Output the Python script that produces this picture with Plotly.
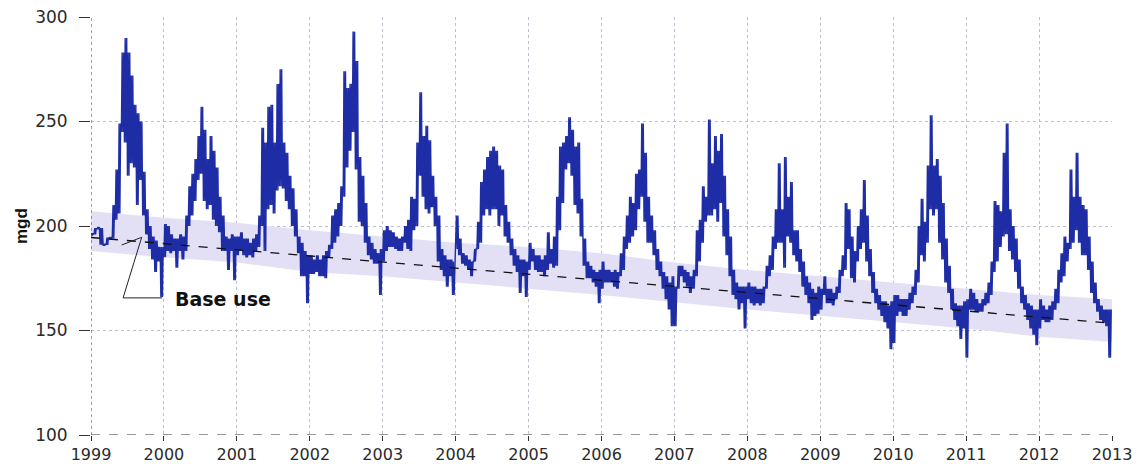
import plotly.graph_objects as go

YEARS = list(range(1999, 2013))

# Half-monthly low / high of daily water use (mgd), 24 values per year (early Jan .. late Dec)
LO_1999 = [195.5, 196, 198.5, 191, 190.5, 191, 194, 194, 203, 206, 245, 240, 224, 230, 228, 210, 222, 205, 196, 189, 184, 178, 183, 166]
HI_1999 = [196.5, 199, 199.5, 199, 191.5, 194.5, 194.5, 210, 227, 249, 283, 290, 283, 272, 258, 254, 250, 226, 208, 200, 195, 193, 190, 190]
LO_2000 = [185, 188, 187, 188, 180, 188, 184, 188, 200, 205, 212, 222, 225, 212, 208, 210, 203, 200, 197, 188, 188, 179, 188, 174]
HI_2000 = [201, 200, 196, 194, 194, 196, 195, 205, 219, 225, 232, 243, 257, 246, 232, 243, 236, 228, 214, 205, 195, 194, 196, 195]
LO_2001 = [186, 188, 186, 185, 186, 185, 188, 190, 200, 188, 208, 210, 206, 217, 219, 218, 212, 208, 200, 195, 187, 176, 176, 163]
HI_2001 = [195, 197, 194, 194, 192, 194, 196, 205, 247, 240, 257, 258, 240, 268, 275, 240, 235, 224, 218, 208, 195, 192, 188, 186]
LO_2002 = [177, 177, 178, 176, 176, 175, 185, 189, 192, 195, 200, 214, 228, 236, 245, 227, 202, 200, 192, 186, 184, 182, 182, 167]
HI_2002 = [186, 184, 186, 184, 186, 188, 191, 205, 208, 211, 219, 274, 266, 268, 293, 279, 233, 224, 211, 195, 192, 189, 187, 189]
LO_2003 = [183, 188, 190, 190, 189, 188, 188, 192, 189, 188, 198, 200, 224, 214, 208, 206, 209, 200, 183, 179, 176, 171, 176, 167]
HI_2003 = [198, 200, 198, 197, 195, 194, 195, 200, 203, 214, 213, 240, 264, 243, 248, 241, 224, 214, 205, 189, 186, 184, 184, 183]
LO_2004 = [189, 186, 182, 181, 179, 176, 183, 189, 192, 205, 208, 205, 208, 208, 200, 205, 195, 192, 186, 181, 178, 168, 176, 166]
HI_2004 = [205, 194, 187, 186, 184, 183, 189, 202, 221, 227, 233, 236, 238, 236, 229, 227, 210, 202, 194, 189, 186, 184, 184, 183]
LO_2005 = [179, 183, 179, 178, 178, 176, 179, 182, 180, 181, 198, 211, 227, 230, 224, 210, 206, 195, 181, 175, 175, 173, 171, 163]
HI_2005 = [192, 189, 186, 186, 184, 186, 197, 189, 195, 214, 238, 240, 243, 252, 246, 238, 240, 213, 194, 183, 181, 179, 178, 179]
LO_2006 = [170, 173, 173, 173, 171, 170, 176, 179, 189, 192, 195, 198, 208, 214, 202, 192, 192, 186, 179, 176, 170, 165, 160, 152]
HI_2006 = [183, 179, 179, 178, 179, 178, 187, 195, 205, 214, 211, 225, 227, 249, 235, 214, 205, 198, 189, 183, 178, 176, 173, 176]
LO_2007 = [152, 170, 176, 173, 171, 168, 170, 176, 183, 192, 202, 205, 205, 208, 202, 211, 195, 186, 176, 167, 165, 160, 163, 151]
HI_2007 = [171, 181, 181, 179, 178, 176, 179, 198, 203, 219, 214, 251, 230, 243, 236, 244, 224, 208, 195, 179, 173, 171, 171, 171]
LO_2008 = [165, 163, 162, 163, 162, 163, 170, 176, 179, 189, 192, 192, 180, 195, 192, 186, 183, 178, 171, 167, 163, 155, 157, 158]
HI_2008 = [173, 171, 171, 170, 170, 171, 181, 186, 195, 208, 230, 208, 233, 214, 221, 198, 198, 189, 183, 176, 173, 170, 168, 171]
LO_2009 = [160, 167, 163, 163, 162, 165, 168, 176, 179, 189, 175, 173, 183, 189, 192, 183, 176, 168, 163, 160, 157, 154, 151, 141]
HI_2009 = [170, 176, 170, 170, 168, 171, 179, 186, 211, 208, 195, 188, 200, 208, 222, 205, 189, 178, 170, 167, 164, 164, 162, 164]
LO_2010 = [144, 157, 159, 157, 157, 160, 163, 167, 173, 186, 183, 192, 208, 205, 208, 192, 184, 173, 168, 160, 155, 152, 146, 151]
HI_2010 = [167, 167, 165, 165, 165, 168, 171, 179, 200, 213, 202, 229, 253, 229, 232, 224, 211, 194, 181, 170, 163, 162, 162, 164]
LO_2011 = [137, 160, 160, 159, 159, 159, 162, 163, 167, 178, 183, 190, 195, 196, 188, 184, 178, 170, 163, 160, 155, 151, 148, 143]
HI_2011 = [165, 170, 168, 165, 163, 165, 168, 173, 183, 212, 210, 207, 235, 249, 208, 200, 194, 184, 171, 167, 163, 162, 160, 160]
LO_2012 = [151, 155, 154, 154, 155, 160, 163, 173, 176, 183, 189, 192, 198, 192, 186, 186, 179, 168, 163, 159, 155, 154, 152, 137]
HI_2012 = [165, 162, 160, 162, 164, 170, 179, 187, 195, 192, 227, 214, 235, 214, 210, 208, 195, 183, 173, 165, 162, 160, 160, 160]

LOWS = [LO_1999, LO_2000, LO_2001, LO_2002, LO_2003, LO_2004, LO_2005,
        LO_2006, LO_2007, LO_2008, LO_2009, LO_2010, LO_2011, LO_2012]
HIGHS = [HI_1999, HI_2000, HI_2001, HI_2002, HI_2003, HI_2004, HI_2005,
         HI_2006, HI_2007, HI_2008, HI_2009, HI_2010, HI_2011, HI_2012]

# Base-use trend and its band
BASE_X = [1999, 2013]
BASE_Y = [194.5, 153.5]
BAND_X = list(range(1999, 2014))
BAND_UP = [207, 204, 201.5, 198, 195, 192, 190, 187, 182.5, 179, 176, 173, 170, 167, 165]
BAND_LO = [188, 185, 182.5, 178, 176, 173, 170, 167, 163.5, 160, 157, 154, 151, 147, 144.5]

X_TICKS = list(range(1999, 2014))
Y_TICKS = [100, 150, 200, 250, 300]

# each half-month drawn as vertical low->high strokes (step rendering of the daily record)
xs, ys = [], []
for yr, lo, hi in zip(YEARS, LOWS, HIGHS):
    for k in range(24):
        t = yr + k / 24
        xs += [t, t + 0.25 / 24, t + 0.5 / 24, t + 0.75 / 24]
        ys += [lo[k], hi[k], lo[k], hi[k]]

fig = go.Figure()
fig.add_trace(go.Scatter(x=BAND_X, y=BAND_UP, mode="lines", line=dict(width=0),
                         hoverinfo="skip", showlegend=False))
fig.add_trace(go.Scatter(x=BAND_X, y=BAND_LO, mode="lines", line=dict(width=0),
                         fill="tonexty", fillcolor="#e3e0f6", hoverinfo="skip", showlegend=False))
fig.add_trace(go.Scatter(x=xs, y=ys, mode="lines", line=dict(color="#1e2da6", width=1.4),
                         showlegend=False))
fig.add_trace(go.Scatter(x=BASE_X, y=BASE_Y, mode="lines",
                         line=dict(color="#111111", width=1.3, dash="dash"), showlegend=False))

fig.update_xaxes(range=[1999, 2013], tickvals=X_TICKS, ticktext=[str(v) for v in X_TICKS],
                 tickfont=dict(family="DejaVu Sans", size=16, color="#2a2a2a"),
                 ticks="outside", ticklen=5, tickcolor="#333",
                 showgrid=True, gridcolor="#b9c0cf", griddash="dot", gridwidth=1,
                 zeroline=False, showline=False, automargin=False)
fig.update_yaxes(range=[100, 300], tickvals=Y_TICKS,
                 tickfont=dict(family="DejaVu Sans", size=17, color="#2a2a2a"),
                 ticks="outside", ticklen=11, tickcolor="#333", ticklabelstandoff=8,
                 showgrid=True, gridcolor="#b9c0cf", griddash="dot", gridwidth=1,
                 zeroline=False, showline=False, automargin=False)

fig.add_shape(type="line", xref="x", yref="y", x0=1999, x1=2013, y0=100, y1=100,
              line=dict(color="#333", width=1, dash="dash"))
fig.add_shape(type="line", xref="x", yref="y", x0=1999, x1=1999, y0=100, y1=300,
              line=dict(color="#444", width=1, dash="dot"))

# "Base use" callout
fig.add_shape(type="path", xref="x", yref="y",
              path="M 1999.975,165.6 L 1999.44,165.6 L 1999.695,194.6 L 1999.42,190.9",
              line=dict(color="#222", width=1))
fig.add_annotation(x=2000.12, y=165.3, xref="x", yref="y", text="<b>Base use</b>",
                   showarrow=False, xanchor="left", yanchor="middle",
                   font=dict(family="DejaVu Sans", size=19, color="#111"))
fig.add_annotation(x=0, y=0.5, xref="paper", yref="paper", text="<b>mgd</b>",
                   showarrow=False, textangle=-90, xanchor="center", yanchor="middle",
                   xshift=-70, font=dict(family="Liberation Sans", size=17, color="#111"))

fig.update_layout(width=1137, height=464, margin=dict(l=91, r=25, t=17, b=29, autoexpand=False),
                  paper_bgcolor="white", plot_bgcolor="white", showlegend=False)

fig.write_html("out.html", config={"displayModeBar": False},
               post_script="document.body.style.margin='0';document.body.style.overflow='hidden';")
